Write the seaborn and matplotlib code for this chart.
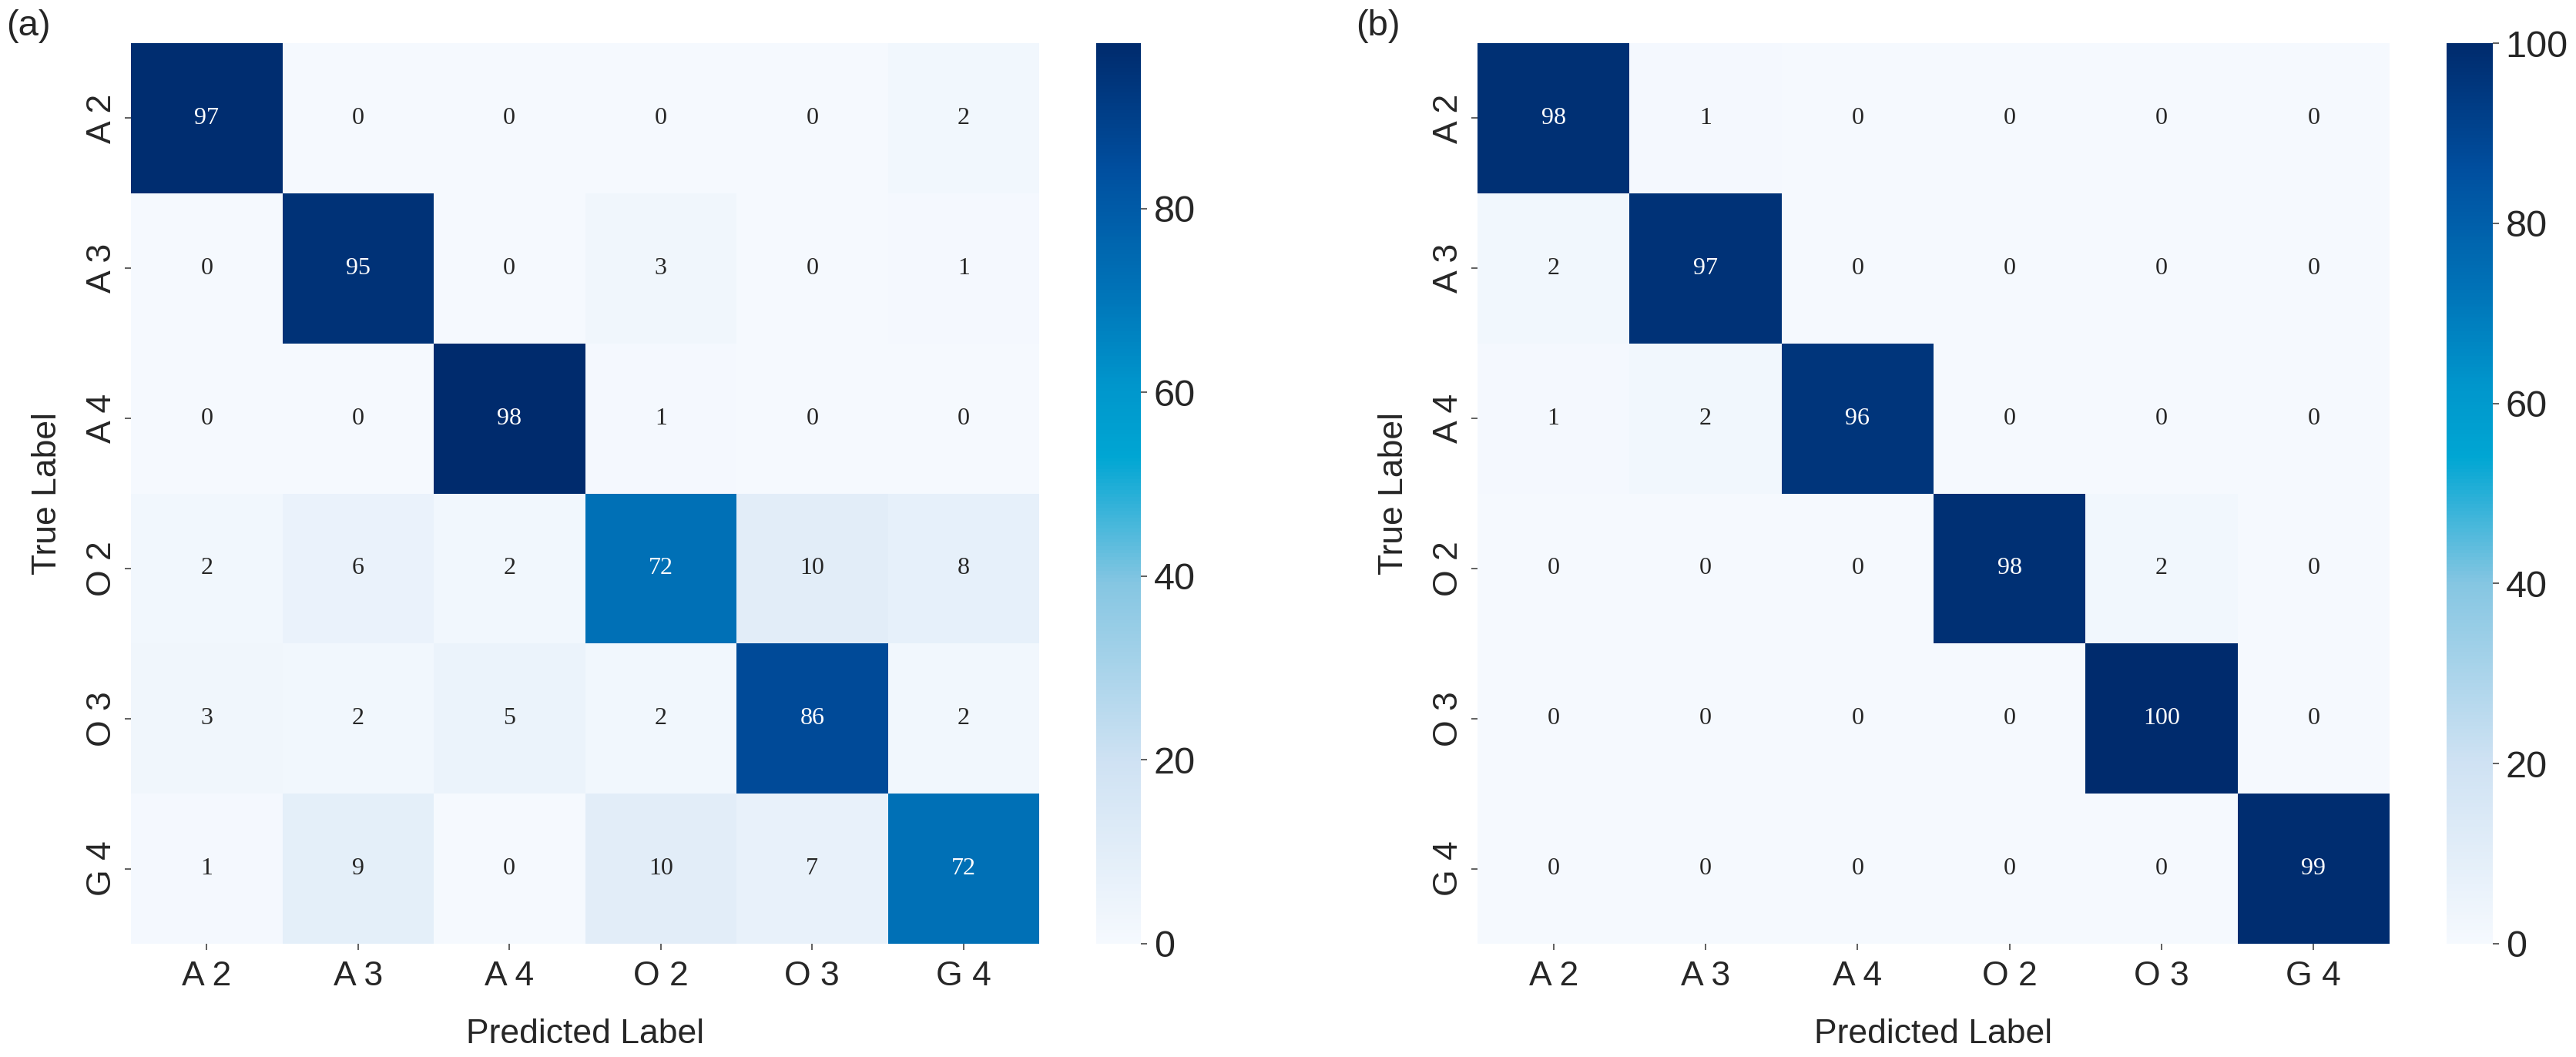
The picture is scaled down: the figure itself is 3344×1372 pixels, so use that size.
import numpy as np
import pandas as pd
import matplotlib
matplotlib.use("Agg")
import matplotlib.pyplot as plt
from matplotlib.colors import LinearSegmentedColormap
import seaborn as sns

labels = ["A 2", "A 3", "A 4", "O 2", "O 3", "G 4"]

cm_a = [
    [97, 0, 0, 0, 0, 2],
    [0, 95, 0, 3, 0, 1],
    [0, 0, 98, 1, 0, 0],
    [2, 6, 2, 72, 10, 8],
    [3, 2, 5, 2, 86, 2],
    [1, 9, 0, 10, 7, 72],
]

cm_b = [
    [98, 1, 0, 0, 0, 0],
    [2, 97, 0, 0, 0, 0],
    [1, 2, 96, 0, 0, 0],
    [0, 0, 0, 98, 2, 0],
    [0, 0, 0, 0, 100, 0],
    [0, 0, 0, 0, 0, 99],
]

panel_tags = ["(a)", "(b)"]

sns.set_style("white")
plt.rcParams["font.family"] = ["Liberation Sans", "DejaVu Sans"]

cmap = LinearSegmentedColormap.from_list(
    "blue_cyan",
    [(0.0, "#f5f9fe"), (0.2, "#cfe2f3"), (0.4, "#85c6e2"),
     (0.54, "#00a6d3"), (0.62, "#0096cc"), (0.72, "#0075b9"),
     (0.86, "#004f9f"), (1.0, "#002b6d")])

fig = plt.figure(figsize=(33.44, 13.72), dpi=100)
W, H = 3344.0, 1372.0

def rect(x0, x1, y0, y1):
    return [x0 / W, 1 - y1 / H, (x1 - x0) / W, (y1 - y0) / H]

layouts = [
    (rect(170, 1349, 56, 1225), rect(1423, 1481, 56, 1225)),
    (rect(1918, 3102, 56, 1225), rect(3176, 3236, 56, 1225)),
]

for data, tag, (hm_rect, cb_rect) in zip([cm_a, cm_b], panel_tags, layouts):
    ax = fig.add_axes(hm_rect)
    cax = fig.add_axes(cb_rect)
    df = pd.DataFrame(data, index=labels, columns=labels)
    sns.heatmap(df, ax=ax, cbar_ax=cax, cmap=cmap, annot=True, fmt="d",
                annot_kws={"fontsize": 23, "family": ["Liberation Serif", "DejaVu Serif"]},
                square=False)
    ax.set_xlabel("Predicted Label", fontsize=32, labelpad=24)
    ax.set_ylabel("True Label", fontsize=32, labelpad=22)
    ax.set_xticklabels(labels, fontsize=32, rotation=0)
    ax.set_yticklabels(labels, fontsize=32, rotation=90, va="center")
    ax.tick_params(axis="both", which="both", length=6, width=1.2,
                   color="#444444", bottom=True, left=True)
    ax.tick_params(axis="x", pad=10)
    ax.tick_params(axis="y", pad=6)
    cax.tick_params(labelsize=35, length=6, width=1.2, color="#444444", pad=6)
    cax.set_frame_on(False)
    pos = ax.get_position()
    fig.text(pos.x0 - (162 if tag == "(a)" else 158) / W, 1 - 12 / H, tag,
             fontsize=34, va="top", ha="left")

fig.savefig("out.png", dpi=100, facecolor="white")
